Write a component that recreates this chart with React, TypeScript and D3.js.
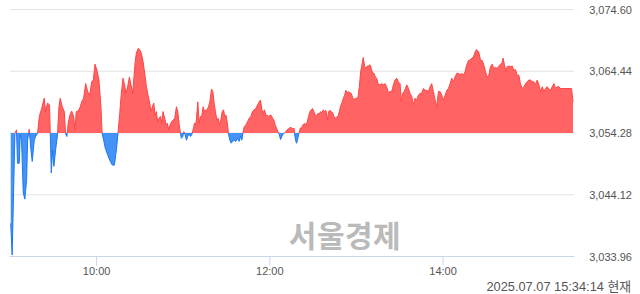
import React from "react";
import * as d3 from "d3";

const BASE = 3054.28;
const yTickValues = [3033.96, 3044.12, 3054.28, 3064.44, 3074.6];
const yTickLabels = ["3,033.96", "3,044.12", "3,054.28", "3,064.44", "3,074.60"];
const xTickMinutes = [60, 180, 300];
const xTickLabels = ["10:00", "12:00", "14:00"];
const stampText = "2025.07.07 15:34:14 현재";
const watermarkText = "서울경제";

// minutes after 09:00
const minutes = [
  0.5, 1.5, 3.4, 4.5, 5.2, 6.4, 7.1, 8.0, 9.2, 10.3, 11.5, 12.2, 13.3, 14.5, 15.4, 16.8, 17.7, 19.1, 20.3, 21.9,
  23.7, 24.6, 26.0, 27.4, 27.9, 28.6, 29.5, 30.4, 31.6, 32.9, 33.9, 34.8, 36.2, 37.6, 38.5, 39.4, 40.4, 41.5, 42.7, 44.1,
  45.0, 45.9, 47.3, 48.7, 49.6, 51.0, 52.4, 53.8, 55.2, 56.6, 57.7, 58.9, 60.2, 61.6, 63.0,
  63.8, 64.9, 66.0, 67.6, 69.5, 70.9, 72.3, 73.7, 74.8, 76.0, 77.1, 78.3, 79.2, 80.4, 81.5, 82.7, 83.8, 85.0, 85.7, 86.6,
  87.5, 88.7, 89.8, 91.0, 92.2, 93.3, 94.5, 95.6, 96.8, 97.7, 98.6, 99.6, 100.5, 101.4, 102.3, 103.3, 104.2, 105.1, 106.0, 107.2,
  108.1, 109.0, 110.0, 110.9, 111.8, 113.0, 114.1, 115.3, 116.2, 117.1, 118.1, 118.7, 119.7, 120.4, 121.3, 122.2, 123.1, 124.1, 125.0, 125.9,
  126.8, 127.8, 128.5,
  129.1, 130.1, 131.0, 131.9, 132.8, 133.8, 134.7, 135.6, 136.5, 137.5, 138.4, 139.6, 140.5, 141.4, 142.3, 143.3, 144.2, 145.1, 146.0, 147.0,
  147.9, 148.8, 149.7, 150.7, 151.3, 152.3, 153.2, 154.1, 155.3, 156.4, 157.6, 158.7, 159.7, 160.6, 161.3, 162.2, 163.4, 164.5, 165.7, 166.8,
  168.0, 169.1, 170.3, 171.5, 172.6, 173.5, 174.5, 175.4, 176.3, 177.2, 178.2, 179.1, 180.0, 180.9, 181.9, 182.8, 183.7, 184.6, 185.6, 186.5,
  187.4, 188.3, 189.3, 190.2, 191.1, 192.0,
  193.7, 194.8, 196.0, 196.7, 197.1, 197.8, 198.5, 199.4, 200.1, 201.1, 202.0, 202.9, 204.1, 205.0, 205.9, 206.8, 207.8, 208.7, 209.6, 210.5,
  211.5, 212.4, 213.3, 214.2, 215.2, 216.1, 217.0, 217.9, 218.9, 219.8, 220.7, 221.6, 222.6, 223.5, 224.4, 225.3, 226.3, 227.2, 228.1, 229.0,
  230.0, 230.9, 231.8, 232.7, 233.7, 234.6, 235.5, 236.4, 237.4, 238.3, 239.2, 240.1, 241.0, 242.0, 242.9, 243.8, 244.7, 245.7, 246.6, 247.5,
  248.4, 249.4, 250.3, 251.2, 252.1, 253.1, 254.0, 254.9, 256.1,
  257.5, 258.6, 259.8, 260.9, 262.1, 263.2, 264.4, 265.6, 266.7, 267.9, 269.0, 270.2, 271.1, 272.0, 273.0, 273.9, 274.8, 276.0, 277.1, 278.3,
  279.4, 280.6, 281.7, 282.9, 284.1, 285.2, 286.4, 287.5, 288.7, 289.8, 291.0, 292.1, 293.3, 294.5, 295.6, 296.8, 297.9, 299.1, 300.2, 301.4,
  302.6, 303.7, 304.9, 306.0, 307.2, 308.3, 309.5, 310.6, 311.8, 312.9, 314.1, 315.3, 316.4, 317.6, 318.7, 319.9, 321.0, 322.2, 323.1,
  324.7, 325.9, 327.1, 328.2, 329.4, 330.5, 331.7, 332.8, 334.0, 335.1, 336.3, 337.5, 338.6, 339.8, 340.9, 341.6, 342.5, 343.5, 344.4, 345.5,
  346.7, 347.9, 349.0, 350.2, 351.3, 352.5, 353.6, 354.8, 356.0, 357.1, 358.3, 359.4, 360.6, 361.7, 362.9, 364.0, 365.2, 366.4, 367.5, 368.7,
  369.8, 371.0, 372.1, 373.3, 374.5, 375.6, 376.8, 377.9, 379.1, 380.2, 381.4, 389.0, 390.0,
];

const values = [
  3039.4, 3034.2, 3054.2, 3054.8, 3049.3, 3049.3, 3054.0, 3053.1, 3044.4, 3043.4, 3046.6, 3053.1, 3054.9, 3051.5, 3049.6, 3053.1, 3053.7, 3054.2, 3057.0, 3058.3,
  3060.0, 3057.8, 3059.2, 3058.9, 3054.2, 3047.7, 3051.5, 3048.8, 3051.5, 3054.0, 3058.6, 3060.0, 3058.6, 3057.8, 3054.2, 3053.7, 3056.1, 3057.2, 3057.9, 3057.0,
  3054.8, 3057.8, 3057.9, 3058.6, 3059.4, 3060.0, 3062.4, 3061.1, 3060.5, 3062.7, 3063.0, 3065.6, 3064.6, 3063.0, 3058.6,
  3054.2, 3053.1, 3051.8, 3050.7, 3049.6, 3049.0, 3049.0, 3051.5, 3054.2, 3057.5, 3060.8, 3063.3, 3062.4, 3060.8, 3061.9, 3063.5, 3062.2, 3060.8, 3063.0, 3065.7,
  3067.4, 3068.2, 3068.0, 3067.4, 3066.0, 3064.1, 3061.9, 3060.5, 3059.2, 3057.8, 3058.6, 3059.2, 3057.2, 3057.8, 3056.1, 3056.7, 3057.0, 3055.9, 3057.8, 3056.7,
  3055.6, 3055.9, 3054.8, 3055.6, 3056.1, 3056.4, 3056.7, 3058.6, 3057.8, 3055.9, 3054.2, 3053.4, 3053.7, 3054.5, 3054.0, 3053.1, 3053.7, 3054.2, 3053.7, 3054.0,
  3054.8, 3055.9, 3055.6,
  3056.4, 3059.4, 3055.9, 3057.0, 3057.0, 3058.6, 3057.8, 3058.1, 3058.0, 3058.6, 3059.4, 3061.5, 3061.1, 3059.2, 3057.8, 3056.4, 3056.7, 3055.6, 3056.4, 3057.8,
  3058.1, 3057.0, 3057.2, 3055.6, 3054.2, 3053.1, 3052.6, 3052.9, 3053.1, 3052.9, 3053.4, 3052.9, 3053.7, 3053.1, 3054.2, 3055.3, 3055.6, 3056.1, 3056.7, 3057.0,
  3057.8, 3058.1, 3058.3, 3058.9, 3059.4, 3059.7, 3058.1, 3057.6, 3058.1, 3057.2, 3057.2, 3057.0, 3057.2, 3057.2, 3056.7, 3056.4, 3055.6, 3055.1, 3054.5, 3054.1,
  3053.2, 3053.7, 3054.2, 3054.3, 3054.5, 3054.8,
  3055.1, 3055.2, 3054.9, 3055.1, 3054.2, 3053.1, 3052.6, 3053.4, 3054.2, 3055.1, 3055.1, 3055.6, 3055.9, 3055.6, 3056.1, 3057.0, 3057.8, 3058.1, 3058.3, 3057.8,
  3057.2, 3057.1, 3057.5, 3057.4, 3057.8, 3057.6, 3058.1, 3057.8, 3058.0, 3056.4, 3057.8, 3058.0, 3057.8, 3057.6, 3057.0, 3056.7, 3056.9, 3057.0, 3057.8, 3058.7,
  3059.3, 3060.0, 3060.5, 3061.3, 3060.9, 3061.1, 3060.9, 3060.8, 3060.1, 3059.7, 3060.0, 3060.0, 3060.1, 3061.9, 3064.4, 3065.5, 3066.7, 3065.2, 3064.9, 3065.3,
  3065.3, 3065.5, 3064.9, 3064.1, 3064.1, 3063.5, 3063.3, 3062.4, 3062.2,
  3062.4, 3062.2, 3062.4, 3061.9, 3060.9, 3061.1, 3061.1, 3062.2, 3063.0, 3063.3, 3062.7, 3062.4, 3059.4, 3060.8, 3061.1, 3061.6, 3062.2, 3061.6, 3060.8, 3060.3,
  3058.9, 3060.0, 3059.7, 3060.5, 3060.8, 3060.8, 3061.6, 3061.3, 3061.3, 3061.1, 3061.9, 3062.4, 3061.1, 3059.7, 3058.6, 3061.1, 3061.1, 3060.5, 3059.7, 3060.5,
  3061.3, 3061.6, 3062.4, 3063.3, 3062.7, 3063.5, 3064.1, 3064.1, 3063.9, 3064.1, 3063.8, 3064.4, 3065.5, 3066.2, 3066.3, 3066.6, 3066.8, 3067.6, 3068.0,
  3067.6, 3066.3, 3066.2, 3065.5, 3064.4, 3063.5, 3063.8, 3065.2, 3065.6, 3064.9, 3065.1, 3064.9, 3065.3, 3065.6, 3065.8, 3066.6, 3065.5, 3064.4, 3065.2, 3065.3,
  3065.2, 3065.3, 3064.6, 3064.7, 3063.8, 3063.8, 3062.4, 3061.6, 3061.9, 3062.4, 3062.7, 3063.0, 3063.0, 3062.7, 3062.7, 3062.2, 3063.0, 3062.2, 3061.1, 3061.9,
  3061.1, 3061.6, 3061.9, 3061.5, 3061.3, 3061.9, 3062.4, 3061.6, 3061.9, 3061.9, 3061.6, 3061.6, 3059.4,
];

const W = 640;
const H = 294;
const X0 = 10;
const X1 = 573;
const GRID_X1 = 574;
const Y_TOP = 9.5;
const Y_BOT = 256.5;

export default function App() {
  const x = d3.scaleLinear().domain([0, 390]).range([X0, X1]);
  const y = d3.scaleLinear().domain([yTickValues[0], yTickValues[4]]).range([Y_BOT, Y_TOP]);
  const data = minutes.map((m, i) => ({ m, v: values[i] }));
  const yb = y(BASE);

  const area = d3
    .area<{ m: number; v: number }>()
    .x((d) => x(d.m))
    .y0(yb)
    .y1((d) => y(d.v));
  const line = d3
    .line<{ m: number; v: number }>()
    .x((d) => x(d.m))
    .y((d) => y(d.v));

  const areaPath = area(data) || "";
  const linePath = line(data) || "";
  const font = "'Liberation Sans', Arial, 'Noto Sans CJK KR', sans-serif";

  return (
    <svg
      width={W}
      height={H}
      style={{ position: "absolute", left: 0, top: 0, background: "#fff" }}
    >
      <defs>
        <clipPath id="above">
          <rect x={0} y={0} width={W} height={yb} />
        </clipPath>
        <clipPath id="below">
          <rect x={0} y={yb} width={W} height={H - yb} />
        </clipPath>
      </defs>

      {yTickValues.slice(1).map((t) => (
        <line key={t} x1={X0} x2={GRID_X1} y1={y(t)} y2={y(t)} stroke="#e3e3e3" strokeWidth={1} />
      ))}

      <text
        x={345}
        y={246.5}
        textAnchor="middle"
        fontFamily="'Noto Sans CJK KR', sans-serif"
        fontWeight="bold"
        fontSize={30}
        letterSpacing={0.5}
        fill="#bababa"
      >
        {watermarkText}
      </text>

      <g clipPath="url(#above)">
        <path d={areaPath} fill="#ff6363" />
        <path d={linePath} fill="none" stroke="#ff4545" strokeWidth={1} />
      </g>
      <g clipPath="url(#below)">
        <path d={areaPath} fill="#4493f6" />
        <path d={linePath} fill="none" stroke="#1c78f2" strokeWidth={1} />
      </g>

      <line x1={X0} x2={GRID_X1} y1={Y_BOT} y2={Y_BOT} stroke="#c9d6ea" strokeWidth={1} />
      {xTickMinutes.map((m, i) => (
        <g key={m}>
          <line x1={x(m)} x2={x(m)} y1={Y_BOT} y2={Y_BOT + 9} stroke="#c9d6ea" strokeWidth={1} />
          <text x={x(m)} y={275} textAnchor="middle" fontFamily={font} fontSize={11} fill="#555">
            {xTickLabels[i]}
          </text>
        </g>
      ))}

      {yTickValues.map((t, i) => (
        <text key={t} x={632} y={y(t) + 4} textAnchor="end" fontFamily={font} fontSize={11} fill="#555">
          {yTickLabels[i]}
        </text>
      ))}

      <text x={631} y={291} textAnchor="end" fontFamily={font} fontSize={12.8} fill="#555">
        {stampText}
      </text>
    </svg>
  );
}
